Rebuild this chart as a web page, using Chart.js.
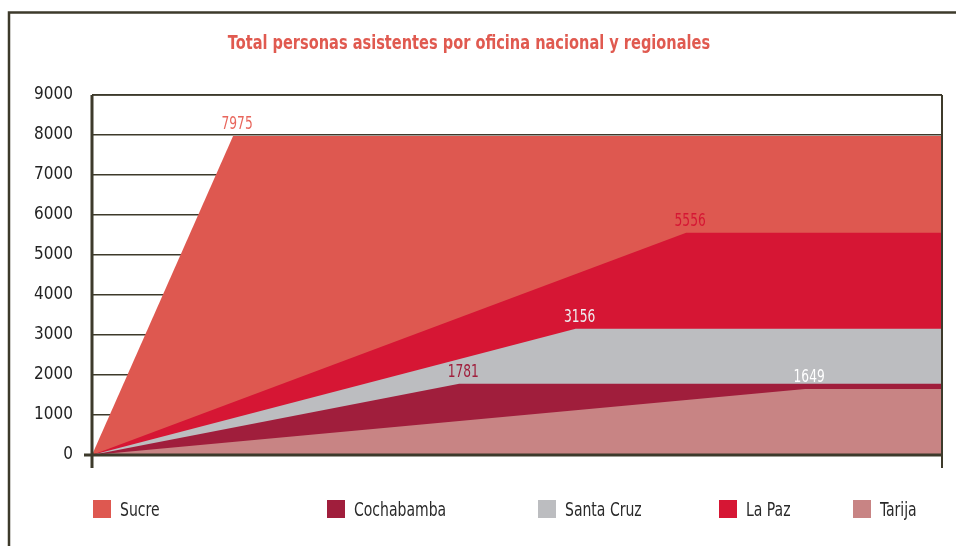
<!DOCTYPE html>
<html>
<head>
<meta charset="utf-8">
<script src="https://cdn.jsdelivr.net/npm/chart.js@4/dist/chart.umd.min.js"></script>
<style>
  html, body { margin: 0; padding: 0; background: #fff; }
  #wrap { position: relative; width: 956px; height: 546px; overflow: hidden; }
  #c { position: absolute; left: 0; top: 0; }
  .narrow { font-family: "Liberation Sans Narrow", "DejaVu Sans Condensed", "Open Sans", sans-serif; }
  #title { position: absolute; left: 0; width: 938px; top: 30px; text-align: center;
           color: #e05a50; font-weight: bold; font-size: 20px; line-height: 24px; white-space: nowrap;
           transform: scaleX(0.81); transform-origin: 469px 0; }
  .lg { position: absolute; top: 496px; height: 26px; display: flex; align-items: center; color: #2a2a2a; font-size: 19px; white-space: nowrap; }
  .lg span.sw { display: inline-block; width: 18px; height: 18px; margin-right: 9px; }
  .lg span.tx { display: inline-block; transform: scaleX(0.82); transform-origin: 0 50%; }
</style>
</head>
<body>
<div id="wrap">
  <canvas id="c" width="956" height="546"></canvas>
  <div id="title" class="narrow">Total personas asistentes por oficina nacional y regionales</div>
  <div id="legend"></div>
</div>
<script>
// ---- data ----
const categories = ['Sucre', 'Cochabamba', 'Santa Cruz', 'La Paz', 'Tarija'];
const totals     = [7975, 1781, 3156, 5556, 1649];
// horizontal position (0-100) at which each series reaches its total
const peakPos    = [16.6, 43.2, 56.9, 69.9, 83.9];
const yTicks     = [0, 1000, 2000, 3000, 4000, 5000, 6000, 7000, 8000, 9000];
const colors     = ['#de5850', '#a01e3c', '#bcbdc0', '#d61634', '#c88484'];
const labelColors= ['#e8665c', '#a01e3c', '#eeeef0', '#d61634', '#ffffff'];
const legendX    = [93, 327, 538, 719, 853];

const FONT = '"Liberation Sans Narrow", "DejaVu Sans Condensed", "Open Sans", sans-serif';
const DARK = '#3d3a2b';

const datasets = categories.map((name, i) => ({
  label: name,
  data: [{x: 0, y: 0}, {x: peakPos[i], y: totals[i]}, {x: 100, y: totals[i]}],
  backgroundColor: colors[i],
  borderColor: colors[i],
  borderWidth: 0,
  pointRadius: 0,
  fill: 'origin',
  tension: 0,
  order: totals[i]
}));

const framePlugin = {
  id: 'frame',
  beforeDraw(chart) {
    const c = chart.ctx;
    c.save();
    c.strokeStyle = DARK;
    c.lineWidth = 2.5;
    c.beginPath();
    c.moveTo(9, 546); c.lineTo(9, 12.5); c.lineTo(956, 12.5);
    c.stroke();
    c.restore();
  },
  afterDatasetsDraw(chart) {
    const c = chart.ctx;
    const a = chart.chartArea;
    const y0 = chart.scales.y.getPixelForValue(0);
    c.save();
    c.strokeStyle = DARK;
    c.lineWidth = 2;
    c.beginPath(); c.moveTo(a.right, a.top); c.lineTo(a.right, y0 + 13); c.stroke();
    c.lineWidth = 3;
    c.beginPath(); c.moveTo(a.left, a.top); c.lineTo(a.left, y0 + 13); c.stroke();
    c.beginPath(); c.moveTo(a.left - 8, y0); c.lineTo(a.right, y0); c.stroke();
    c.lineWidth = 1.5;
    c.beginPath(); c.moveTo(a.left, a.top); c.lineTo(a.right, a.top); c.stroke();
    // value labels
    c.font = '17px ' + FONT;
    c.textAlign = 'center';
    c.textBaseline = 'alphabetic';
    chart.data.datasets.forEach((ds, i) => {
      const p = chart.getDatasetMeta(i).data[1];
      c.save();
      c.translate(p.x + 4, p.y - 7);
      c.scale(0.8, 1);
      c.fillStyle = labelColors[i];
      c.fillText(String(totals[i]), 0, 0);
      c.restore();
    });
    c.restore();
  }
};

new Chart(document.getElementById('c'), {
  type: 'line',
  data: { datasets },
  options: {
    responsive: false,
    animation: false,
    layout: { padding: { left: 0, right: 14, top: 95, bottom: 91 } },
    plugins: { legend: { display: false }, title: { display: false }, tooltip: { enabled: false } },
    scales: {
      x: { type: 'linear', min: 0, max: 100, display: false },
      y: {
        min: 0, max: 9000,
        afterBuildTicks(scale) { scale.ticks = yTicks.map(v => ({ value: v })); },
        afterFit(scale) { scale.width = 92; },
        border: { display: false },
        grid: { color: DARK, lineWidth: 1.5, drawTicks: false },
        ticks: { color: '#222', font: { family: FONT, size: 17 }, padding: 19,
                 callback: v => String(v) }
      }
    }
  },
  plugins: [framePlugin]
});

const lg = document.getElementById('legend');
categories.forEach((name, i) => {
  const d = document.createElement('div');
  d.className = 'lg narrow';
  d.style.left = legendX[i] + 'px';
  d.innerHTML = '<span class="sw" style="background:' + colors[i] + '"></span><span class="tx">' + name + '</span>';
  lg.appendChild(d);
});
</script>
</body>
</html>
